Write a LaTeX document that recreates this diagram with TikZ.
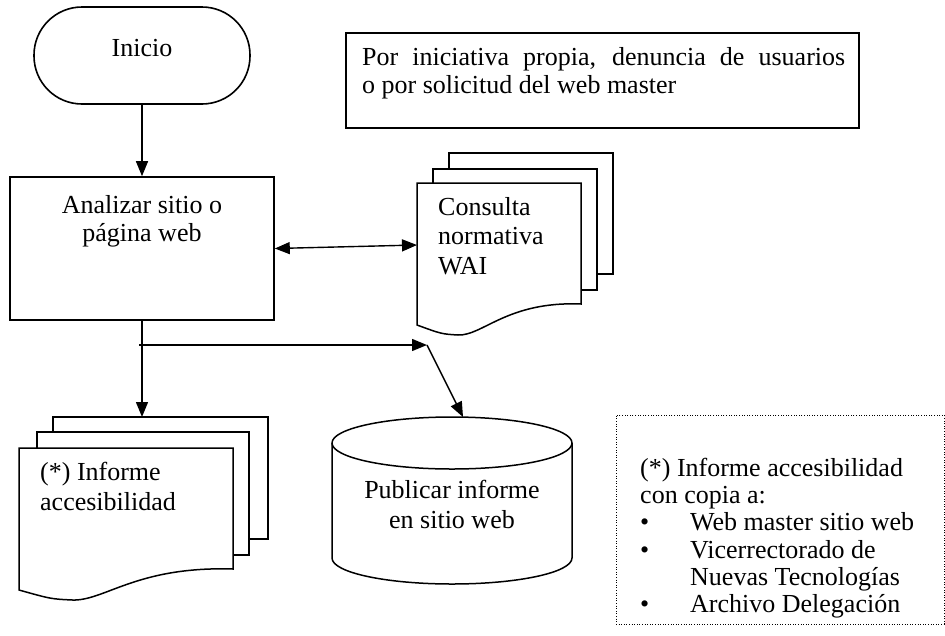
\documentclass[tikz,border=0pt]{standalone}
\usepackage{fontspec}
\setmainfont{Liberation Serif}
\usetikzlibrary{arrows.meta}
\begin{document}
\begin{tikzpicture}[x=1pt,y=-1pt,
  every node/.style={font=\fontsize{26}{29.5}\selectfont, inner sep=0pt},
  box/.style={draw, line width=1.6pt},
  tip/.style={Triangle[length=15pt,width=12pt]},
  conn/.style={line width=1.4pt, -{Triangle[length=15pt,width=12pt]}},
  doc/.style={draw, line width=1.5pt, fill=white},
  txt/.style={align=left, anchor=north west}]
\useasboundingbox (0,0) rectangle (945,635);

% Inicio
\node[box, rounded corners=48pt, minimum width=216pt, minimum height=97pt] (inicio) at (142,55.5) {};
\node[anchor=base] (inicioT) at (142,56) {Inicio};

% Analizar
\node[box, minimum width=264pt, minimum height=143pt] (analizar) at (142,248.5) {};
\node[align=center, anchor=north, font=\fontsize{26}{28}\selectfont] (analizarT) at (142,195) {Analizar sitio o\\página web};

% Nota superior
\node[box, minimum width=513pt, minimum height=95pt] (nota) at (602.5,80.5) {};
\node[txt, font=\fontsize{26}{28}\selectfont] (notaT) at (362,47) {\makebox[483pt][s]{Por iniciativa propia, denuncia de usuarios}\\o por solicitud del web master};

% Consulta normativa (documentos)
\draw[doc] (449,153) rectangle (613,274);
\draw[doc] (433,169) rectangle (597,290);
\draw[doc] (417,183) -- (581,183) -- (581,304) .. controls (507.2,301) and (482.6,336) .. (458,335) .. controls (441.6,334) .. (417,325) -- cycle;
\coordinate (consulta) at (417,245);
\node[txt] (consultaT) at (438,197) {Consulta\\normativa\\WAI};

% Informe (documentos)
\draw[doc] (53,417) rectangle (268,539);
\draw[doc] (37,432) rectangle (249,555);
\draw[doc] (19,448) -- (233,448) -- (233,569) .. controls (136.7,566) and (104.6,601) .. (72.5,600) .. controls (51.1,599) .. (19,590) -- cycle;
\coordinate (informe) at (142,417);
\node[txt] (informeT) at (40,462) {(*) Informe\\accesibilidad};

% Cilindro
\draw[doc] (332,443) -- (332,558) .. controls (332,572.4) and (385.7,584) .. (452,584) .. controls (518.3,584) and (572,572.4) .. (572,558) -- (572,443) .. controls (572,428.6) and (518.3,417) .. (452,417) .. controls (385.7,417) and (332,428.6) .. (332,443) -- cycle;
\draw[line width=1.5pt] (332,443) .. controls (332,457.4) and (385.7,469) .. (452,469) .. controls (518.3,469) and (572,457.4) .. (572,443);
\coordinate (publicar) at (463,417);
\node[align=center, anchor=north] (publicarT) at (452,480) {Publicar informe\\en sitio web};

% Recuadro punteado
\node[draw, dash pattern=on 1pt off 1.6pt, line width=1pt, minimum width=328pt, minimum height=209pt] (copias) at (780,519.5) {};
\node[txt, font=\fontsize{26}{27.2}\selectfont] (copiasT) at (640,458) {(*) Informe accesibilidad\\con copia a:\\\makebox[50pt][l]{\textbullet}Web master sitio web\\\makebox[50pt][l]{\textbullet}Vicerrectorado de\\\hspace*{50pt}Nuevas Tecnologías\\\makebox[50pt][l]{\textbullet}Archivo Delegación};

% Conectores
\coordinate (branch) at (139,345);
\coordinate (knee) at (427,345);
\draw[conn] (inicio.south) -- (analizar.north);
\draw[line width=1.4pt, {Triangle[length=15pt,width=12pt]}-{Triangle[length=15pt,width=12pt]}] (analizar.east) -- (consulta);
\draw[conn] (analizar.south) -- (informe);
\draw[conn] (branch) -- (knee);
\draw[conn] (knee) -- (publicar);
\end{tikzpicture}
\end{document}
